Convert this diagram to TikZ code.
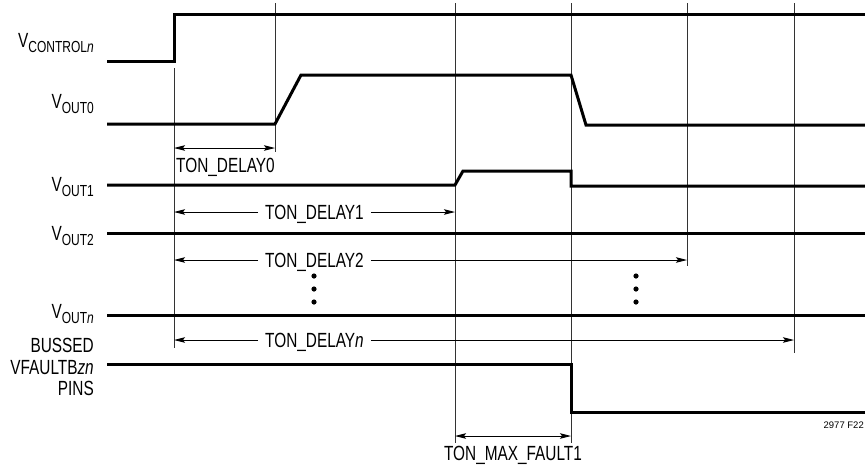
\documentclass[tikz,border=0pt]{standalone}
\usepackage{fontspec}
\setmainfont[FakeStretch=0.75]{Liberation Sans}
\newfontfamily\fignum{Liberation Sans}
\usetikzlibrary{arrows.meta,positioning,calc}
\newcommand{\vsub}[1]{\raisebox{-0.2em}{\fontsize{16}{16}\selectfont #1}}

\begin{document}
\begin{tikzpicture}[x=1pt, y=-1pt,
    sig/.style={line width=3pt, line join=miter},
    marker/.style={line width=0.8pt, black!80},
    dim/.style={line width=0.9pt, -{Stealth[length=11pt,width=5.5pt,inset=2pt]}},
    ddim/.style={line width=0.9pt, {Stealth[length=11pt,width=5.5pt,inset=2pt]}-{Stealth[length=11pt,width=5.5pt,inset=2pt]}},
    siglbl/.style={font=\fontsize{20.5}{21.5}\selectfont, inner sep=0pt, anchor=east, align=right},
    dimlbl/.style={font=\fontsize{20.5}{21.5}\selectfont, inner ysep=0pt, inner xsep=7pt, text height=14.7pt, text depth=0pt}]

    \useasboundingbox (0,0) rectangle (865,467);

    % Event times
    \coordinate (t0) at (174,0);
    \coordinate (t1) at (275,0);
    \coordinate (t2) at (455,0);
    \coordinate (t3) at (571,0);
    \coordinate (t4) at (687,0);
    \coordinate (t5) at (794,0);

    % Marker lines
    \draw[marker] ($(t0)+(0,68)$) -- ($(t0)+(0,348)$);
    \draw[marker] ($(t1)+(0,3)$) -- ($(t1)+(0,152)$);
    \draw[marker] ($(t2)+(0,3)$) -- ($(t2)+(0,443)$);
    \draw[marker] ($(t3)+(0,3)$) -- ($(t3)+(0,443)$);
    \draw[marker] ($(t4)+(0,3)$) -- ($(t4)+(0,266)$);
    \draw[marker] ($(t5)+(0,3)$) -- ($(t5)+(0,353)$);

    % Signal labels
    \node[siglbl] (lctl) at (94,43) {V\vsub{CONTROL\textit{n}}};
    \node[siglbl] (lout0) at (94,104) {V\vsub{OUT0}};
    \node[siglbl] (lout1) at (94,187) {V\vsub{OUT1}};
    \node[siglbl] (lout2) at (94,236) {V\vsub{OUT2}};
    \node[siglbl] (loutn) at (94,314) {V\vsub{OUT\textit{n}}};
    \node[siglbl] (lflt) at (94,367) {BUSSED\\VFAULTB\textit{zn}\\PINS};

    % Waveforms
    \draw[sig] (107,61) -- (174,61) -- (174,14) -- (865,14);
    \draw[sig] (107,124) -- (275,124) -- (301,75) -- (571,75) -- (586,125) -- (865,125);
    \draw[sig] (107,185) -- (455,185) -- (463,171) -- (571,171) -- (571,186) -- (865,186);
    \draw[sig] (107,233) -- (865,233);
    \draw[sig] (107,315) -- (865,315);
    \draw[sig] (107,364) -- (571,364) -- (571,412) -- (865,412);

    % TON_DELAY0
    \draw[ddim] ($(t0)+(0,148)$) -- ($(t1)+(0,148)$);
    \node[dimlbl, inner xsep=0pt, anchor=north west] (d0) at (176,158) {TON\_DELAY0};

    % TON_DELAY1, 2, n
    \node[dimlbl, anchor=west] (d1) at (258,212) {TON\_DELAY1};
    \draw[dim] (d1.west) -- (t0 |- d1);
    \draw[dim] (d1.east) -- (t2 |- d1);

    \node[dimlbl, anchor=west] (d2) at (258,260) {TON\_DELAY2};
    \draw[dim] (d2.west) -- (t0 |- d2);
    \draw[dim] (d2.east) -- (t4 |- d2);

    \node[dimlbl, anchor=west] (dn) at (258,340) {TON\_DELAY\textit{n}};
    \draw[dim] (dn.west) -- (t0 |- dn);
    \draw[dim] (dn.east) -- (t5 |- dn);

    % Dots
    \foreach \x in {314,636}
        \foreach \y in {276,289,302}
            \fill (\x,\y) circle (2.6);

    % TON_MAX_FAULT1
    \draw[ddim] ($(t2)+(0,436)$) -- ($(t3)+(0,436)$);
    \node[dimlbl, anchor=north] (dm) at (513,446) {TON\_MAX\_FAULT1};

    % Figure number
    \node[anchor=base east, inner sep=0pt, font=\fignum\fontsize{9.5}{10}\selectfont] (fig) at (864,428) {2977 F22};
\end{tikzpicture}
\end{document}
